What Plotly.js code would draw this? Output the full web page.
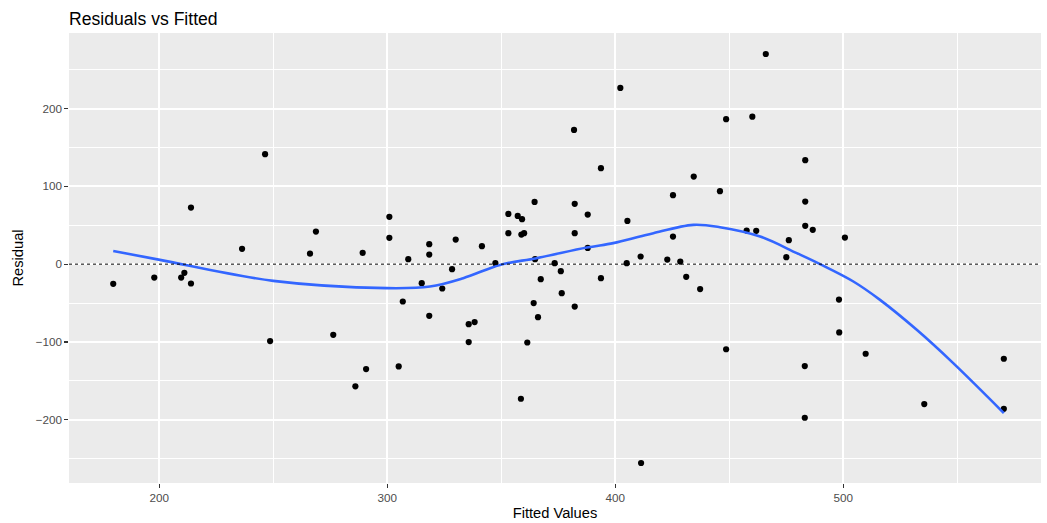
<!DOCTYPE html>
<html>
<head>
<meta charset="utf-8">
<script src="https://cdn.plot.ly/plotly-3.0.1.min.js"></script>
<style>html,body{margin:0;padding:0;background:#fff;}#chart{width:1047px;height:523px;}</style>
</head>
<body>
<div id="chart"></div>
<script>
// Observed points: fitted values and residuals
const fitted = [179.8,197.8,209.6,211.0,213.9,213.9,236.3,246.4,248.6,266.1,268.7,276.3,286.0,289.2,290.7,300.9,300.9,305.0,306.8,309.2,315.1,318.4,318.4,318.4,324.1,328.4,330.0,335.7,338.3,335.7,341.5,347.4,353.1,353.1,357.2,359.1,358.8,360.0,364.6,364.8,367.3,364.2,366.1,361.4,358.6,373.4,376.1,376.5,382.2,382.2,382.2,381.9,387.9,387.9,393.7,393.7,402.2,405.3,405.0,411.1,411.3,425.3,434.4,445.9,425.3,422.8,428.5,431.1,437.2,448.6,448.6,460.1,466.0,457.6,461.8,475.0,476.1,483.3,483.3,483.3,486.6,483.1,483.1,500.7,498.1,498.2,509.8,535.5,570.4,570.4];
const residual = [-25.3,-17.2,-17.2,-11.2,-24.9,72.7,19.7,141.3,-98.9,13.6,41.9,-90.9,-157.1,14.5,-134.9,60.8,33.8,-131.5,-48.0,6.4,-24.4,25.7,12.3,-66.4,-31.3,-6.4,31.6,-77.1,-74.5,-100.2,23.1,1.3,64.6,39.8,62.0,57.8,38.0,39.8,80.0,6.4,-19.3,-50.1,-68.1,-100.7,-173.0,1.3,-9.0,-37.3,-54.5,77.5,39.8,172.5,63.7,20.9,123.3,-18.0,226.5,55.6,1.3,9.8,-255.6,88.6,112.5,93.8,35.5,5.9,3.3,-16.3,-32.1,-109.4,186.3,189.6,270.1,43.2,42.8,9.0,30.8,133.6,80.4,49.2,44.1,-131.0,-197.4,34.2,-45.5,-87.8,-115.2,-179.8,-121.6,-185.9];

// Smoothed (loess) curve
const smoothX = [179.8,200.3,250.0,299.7,318.7,333.3,349.4,365.5,387.5,399.1,410.8,416.7,434.2,445.9,463.5,479.6,489.8,504.4,516.1,532.2,548.2,570.4];
const smoothY = [17.0,5.5,-21.5,-30.8,-28.8,-18.0,-1.0,7.7,21.3,27.0,35.5,39.8,50.5,47.5,35.5,14.1,0.0,-22.3,-45.9,-84.4,-127.2,-191.4];

const xTickVals = [200,300,400,500];
const xTickText = ['200','300','400','500'];
const yTickVals = [-200,-100,0,100,200];
const yTickText = ['\u2212200','\u2212100','0','100','200'];

const traces = [
  {x: fitted, y: residual, type:'scatter', mode:'markers',
   marker:{color:'#000000', size:6.2, line:{width:0}}, hoverinfo:'x+y'},
  {x: smoothX, y: smoothY, type:'scatter', mode:'lines',
   line:{color:'#3366FF', width:2.6, shape:'spline', smoothing:1}, hoverinfo:'skip'}
];

const font = {family:'"Liberation Sans", Arial, Helvetica, sans-serif'};
const layout = {
  width:1047, height:523,
  margin:{l:69, r:6, t:33, b:40, pad:0},
  paper_bgcolor:'#ffffff', plot_bgcolor:'#EBEBEB',
  showlegend:false,
  font:{family:font.family, color:'#000000'},
  title:{text:'Residuals vs Fitted', font:{family:font.family, size:17.6, color:'#000000'},
         x:69/1047, xref:'container', xanchor:'left', y:1-24.5/523, yref:'container', yanchor:'bottom', pad:{t:0,b:0,l:0,r:0}},
  xaxis:{range:[160.4,586.7], tickvals:xTickVals, ticktext:xTickText,
         showgrid:true, gridcolor:'#FFFFFF', gridwidth:2,
         minor:{dtick:50, tick0:150, showgrid:true, gridcolor:'#FFFFFF', gridwidth:1, ticks:''},
         zeroline:false, showline:false, ticks:'outside', ticklen:3.7, tickwidth:1.1, tickcolor:'#333333',
         tickfont:{family:font.family, size:11.7, color:'#4D4D4D'},
         title:{text:'Fitted Values', font:{family:font.family, size:14.7, color:'#000000'}, standoff:4},
         automargin:false, fixedrange:true},
  yaxis:{range:[-281.3,297.1], tickvals:yTickVals, ticktext:yTickText,
         showgrid:true, gridcolor:'#FFFFFF', gridwidth:2,
         minor:{dtick:50, tick0:-250, showgrid:true, gridcolor:'#FFFFFF', gridwidth:1, ticks:''},
         zeroline:false, showline:false, ticks:'outside', ticklen:3.7, tickwidth:1.1, tickcolor:'#333333',
         tickfont:{family:font.family, size:11.7, color:'#4D4D4D'},
         title:{text:'Residual', font:{family:font.family, size:14.7, color:'#000000'}, standoff:8},
         automargin:false, fixedrange:true},
  shapes:[{type:'line', xref:'paper', x0:0, x1:1, yref:'y', y0:0, y1:0,
           line:{color:'#000000', width:1, dash:'dot'}, layer:'above'}]
};

Plotly.newPlot('chart', traces, layout, {displayModeBar:false, staticPlot:true});
</script>
</body>
</html>
